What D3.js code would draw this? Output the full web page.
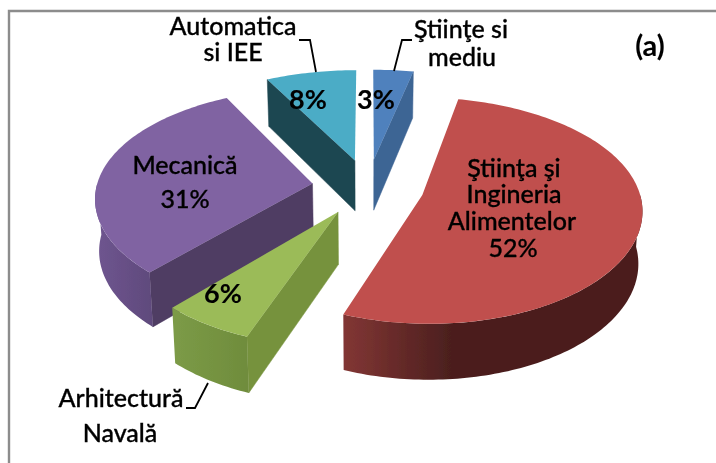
<!DOCTYPE html>
<html><head><meta charset="utf-8">
<script src="https://cdnjs.cloudflare.com/ajax/libs/d3/7.8.5/d3.min.js"></script>
<style>html,body{margin:0;padding:0;background:#fff}svg{display:block}text{font-family:Lato,"Open Sans",sans-serif;fill:#000}</style>
</head><body><svg id="c" width="716" height="463"></svg>
<script>
const categories = ["Ştiinţe si mediu","Ştiinţa şi Ingineria Alimentelor","Arhitectură Navală","Mecanică","Automatica si IEE"];
const values = [3.4,52.3,6,30.6,7.7];
const topColors = ["#4F81BD","#C0504D","#9BBB59","#8064A2","#4BACC6"];
const edgeColors = ["#3E6594","#4B1F1E","#76923C","#4F3D63","#1F4651"];
const rimFrom = ["#3E6594","#823634","#7C9B47","#6F5590","#1F4651"];
const rimTo = ["#3E6594","#4B1F1E","#6F8C3C","#5F4A7C","#1F4651"];
const rimStop = [1,0.36,1,1,1];

const W=716,H=463,cx=368,cy=187,rx=216,ry=109,k=0.135,kx=0.115,explode=0.26,depth=51.5,depthV=4.1,shrink=0.985;
const svg=d3.select("#c");
const defs=svg.append("defs");
defs.append("filter").attr("id","soft").append("feGaussianBlur").attr("stdDeviation",0.45);
const line=d3.line();
const arcs=d3.pie().sort(null).startAngle(0).endAngle(2*Math.PI)(values);
const xs=d3.scaleLinear().domain([0,1]).range([0,rx]);
const ys=d3.scaleLinear().domain([0,1]).range([0,ry]);
const pct=i=>Math.round(values[i])+"%";

function top3(X,V){return [cx+xs(X/(1-kx*V)),cy+ys(V/(1-k*V))];}
function bot3(X,V){const p=top3(X,V);return [cx+(p[0]-cx)*shrink,p[1]+depth+depthV*V];}
function geom(a){
  const mid=(a.startAngle+a.endAngle)/2;
  const ox=explode*Math.sin(mid),oy=-explode*Math.cos(mid);
  const rim=t=>[ox+Math.sin(t),oy-Math.cos(t)];
  return {apex:[ox,oy],rim};
}
function samples(a0,a1){const n=Math.max(2,Math.ceil((a1-a0)/0.02));return d3.range(n+1).map(i=>a0+(a1-a0)*i/n);}

const root=svg.append("g").attr("filter","url(#soft)");
root.append("path").attr("d",line([[9,H],[9,11],[W,11]])).attr("fill","none").attr("stroke","#8c8c8c").attr("stroke-width",2.4);

const order=[4,0,3,1,2];
order.forEach(i=>{
  const a=arcs[i],g=geom(a);
  const gid="rim"+i;
  const gr=defs.append("linearGradient").attr("id",gid);
  gr.append("stop").attr("offset","0").attr("stop-color",rimFrom[i]);
  gr.append("stop").attr("offset",rimStop[i]).attr("stop-color",rimTo[i]);
  const layer=root.append("g");
  [[a.startAngle,-1],[a.endAngle,1]].forEach(([t,sign])=>{
    if(sign*Math.sin(t)<=1e-9)return;
    const r=g.rim(t);
    const pts=[top3(...g.apex),top3(...r),bot3(...r),bot3(...g.apex)];
    layer.append("path").attr("d",line(pts)+"Z").attr("fill",edgeColors[i]).attr("stroke",edgeColors[i]).attr("stroke-width",0.5);
  });
  const r0=Math.max(a.startAngle,Math.PI/2),r1=Math.min(a.endAngle,Math.PI*1.5);
  if(r1>r0){
    const ts=samples(r0,r1);
    const pts=ts.map(t=>top3(...g.rim(t))).concat(ts.slice().reverse().map(t=>bot3(...g.rim(t))));
    layer.append("path").attr("d",line(pts)+"Z").attr("fill",`url(#${gid})`);
  }
  const ts=samples(a.startAngle,a.endAngle);
  const pts=[top3(...g.apex)].concat(ts.map(t=>top3(...g.rim(t))));
  layer.append("path").attr("d",line(pts)+"Z").attr("fill",topColors[i]);
});

const leaders=[[[299,40],[310,40],[316,72]],[[412,40],[402,40],[394,71]],[[186,408],[195,408],[208,383]]];
root.selectAll("path.lead").data(leaders).join("path").attr("class","lead")
  .attr("d",d=>line(d)).attr("fill","none").attr("stroke","#000").attr("stroke-width",1.8);

const labels=[
 {t:"Automatica",x:233,y:35,w:500,s:25},{t:"si IEE",x:233,y:61,w:500,s:25},
 {t:"Ştiinţe si",x:461,y:38,w:500,s:25},{t:"mediu",x:462,y:66,w:500,s:25},
 {t:"(a)",x:650,y:56,w:700,s:29},
 {t:"Ştiinţa şi",x:514,y:177,w:500,s:25},{t:"Ingineria",x:514,y:203,w:500,s:25},{t:"Alimentelor",x:512,y:230,w:500,s:25},{t:pct(1),x:513,y:257,w:500,s:25},
 {t:"Mecanică",x:185,y:174,w:500,s:25},{t:pct(3),x:185,y:208,w:500,s:25},
 {t:pct(2),x:223,y:303,w:700,s:27},{t:pct(4),x:308,y:109,w:700,s:27},{t:pct(0),x:376,y:109,w:700,s:27},
 {t:"Arhitectură",x:121,y:407,w:500,s:25},{t:"Navală",x:120,y:442,w:500,s:25}
];
root.selectAll("text").data(labels).join("text")
 .attr("x",d=>d.x).attr("y",d=>d.y).attr("text-anchor","middle")
 .attr("font-size",d=>d.s).attr("font-weight",d=>d.w)
 .attr("stroke","#000").attr("stroke-width",d=>d.w===500?0.35:0.1).text(d=>d.t);
</script></body></html>
